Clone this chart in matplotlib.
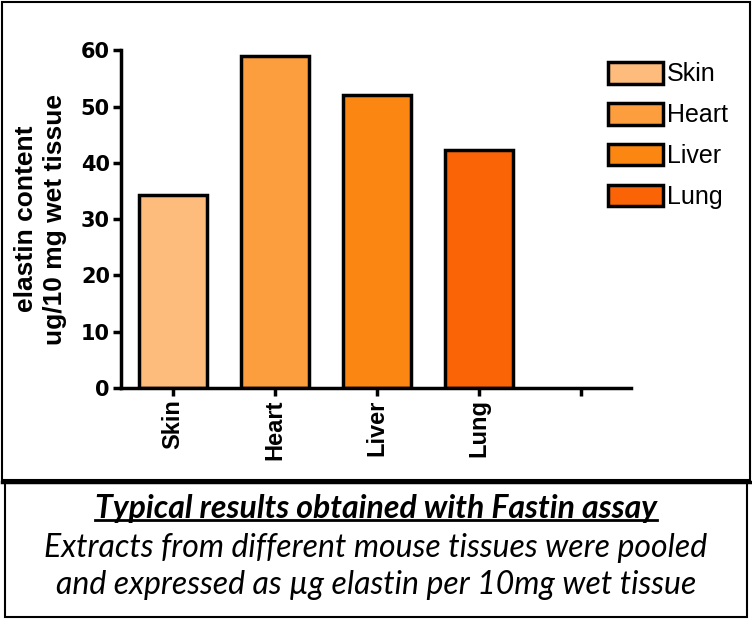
import matplotlib
matplotlib.use("Agg")
import matplotlib.pyplot as plt
from matplotlib.patches import Rectangle, Patch

categories = ["Skin", "Heart", "Liver", "Lung"]
values = [34.3, 59.0, 52.0, 42.3]
colors = ["#FDBB7C", "#FC9E3E", "#FB8712", "#FB6406"]
yticks = [0, 10, 20, 30, 40, 50, 60]
title_text = "Typical results obtained with Fastin assay"
caption_lines = ["Extracts from different mouse tissues were pooled",
                 "and expressed as \u00b5g elastin per 10mg wet tissue"]

fig = plt.figure(figsize=(7.52, 6.28), dpi=100)

# outer frames
fig.patches.append(Rectangle((0.002, 0.235), 0.996, 0.762, transform=fig.transFigure,
                             fill=False, edgecolor="black", linewidth=1.5))
fig.patches.append(Rectangle((0.007, 0.017), 0.987, 0.216, transform=fig.transFigure,
                             fill=False, edgecolor="black", linewidth=1.5))
fig.lines.append(plt.Line2D([0.002, 0.998], [0.233, 0.233], transform=fig.transFigure,
                            color="black", linewidth=2.5))

ax = fig.add_axes([0.161, 0.382, 0.678, 0.538])
x = list(range(len(categories)))
ax.bar(x, values, width=0.66, color=colors, edgecolor="black", linewidth=2.5)
ax.set_xlim(-0.51, 4.49)
ax.set_ylim(0, 60)
ax.set_yticks(yticks)
ax.set_xticks(list(range(len(categories) + 1)))
ax.set_xticklabels(categories + [""], rotation=90, fontsize=17, fontweight="bold",
                   family="Liberation Sans")
for lab in ax.get_yticklabels():
    lab.set_fontsize(15)
    lab.set_fontweight("bold")
    lab.set_family("DejaVu Sans")
ax.spines["top"].set_visible(False)
ax.spines["right"].set_visible(False)
ax.spines["left"].set_linewidth(2.5)
ax.spines["bottom"].set_linewidth(2.5)
ax.tick_params(axis="both", width=2.5, length=6, direction="out", pad=2)
ax.set_ylabel("elastin content\nug/10 mg wet tissue", fontsize=19, fontweight="bold",
              family="Liberation Sans", labelpad=10, linespacing=1.25)

handles = [Patch(facecolor=c, edgecolor="black", linewidth=2.5) for c in colors]
fig.legend(handles, categories, loc="upper left", bbox_to_anchor=(0.779, 0.937),
           frameon=False, prop={"family": "Liberation Sans", "size": 18},
           handlelength=2.2, handleheight=0.95, handletextpad=0.15, labelspacing=0.66)

fig.text(0.5, 0.191, title_text, ha="center", va="center", fontsize=23,
         fontweight="bold", style="italic", family="Lato")
fig.canvas.draw()
t = fig.texts[-1]
bb = t.get_window_extent().transformed(fig.transFigure.inverted())
fig.lines.append(plt.Line2D([bb.x0, bb.x1], [bb.y0 + 0.004, bb.y0 + 0.004],
                            transform=fig.transFigure, color="black", linewidth=2))
fig.text(0.5, 0.127, caption_lines[0], ha="center", va="center", fontsize=23,
         style="italic", family="Lato")
fig.text(0.5, 0.068, caption_lines[1], ha="center", va="center", fontsize=23,
         style="italic", family="Lato")

fig.savefig("out.png", dpi=100)
